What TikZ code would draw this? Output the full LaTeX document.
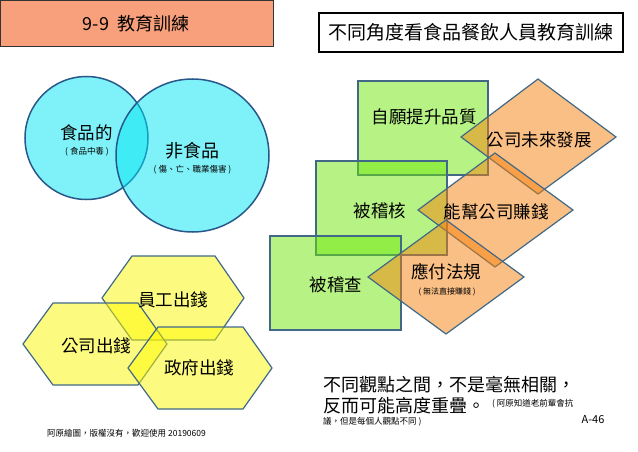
\documentclass[tikz,border=0pt]{standalone}
\usepackage{fontspec}
\setmainfont{Noto Sans CJK TC}
\newcommand\myfs[1]{\fontsize{#1}{#1}\selectfont}
\definecolor{salmon}{RGB}{248,160,124}
\definecolor{cyanf}{RGB}{0,228,242}
\definecolor{circline}{RGB}{40,88,138}
\definecolor{yelf}{RGB}{252,248,0}
\definecolor{greenf}{RGB}{110,232,10}
\definecolor{orangef}{RGB}{246,128,10}
\definecolor{shapeline}{RGB}{65,105,135}
\tikzset{
  circ/.style={fill=cyanf,fill opacity=0.5,draw=circline,draw opacity=1,line width=1.5pt},
  hexa/.style={fill=yelf,fill opacity=0.5,draw=shapeline,draw opacity=1,line width=1.2pt},
  grect/.style={fill=greenf,fill opacity=0.5,draw=shapeline,draw opacity=1,line width=1.2pt},
  odiam/.style={fill=orangef,fill opacity=0.5,draw=shapeline,draw opacity=1,line width=1.2pt},
  lbl/.style={inner sep=0pt,text=black},
}
\begin{document}
\begin{tikzpicture}[x=1pt,y=-1pt]
\useasboundingbox (0,0) rectangle (638,452);
% title boxes
\draw[fill=salmon,draw=black!80,line width=1pt] (0.5,0.5) rectangle (273,47);
\node[lbl] (t1) at (136,24) {\myfs{18}9-9\ \ 教育訓練};
\draw[fill=white,draw=black,line width=1.3pt] (319,13) rectangle (623,52);
\node[lbl] (t2) at (471,32) {\myfs{19}不同角度看食品餐飲人員教育訓練};
% circles
\path[circ] (86.5,138) circle (61.5);
\path[circ] (192.5,155.5) circle (76.5);
\node[lbl] (c1) at (86.5,133) {\myfs{17.5}食品的};
\node[lbl] (c1s) at (87,152) {\myfs{8.5}(\ 食品中毒\ )};
\node[lbl] (c2) at (192.5,151) {\myfs{18}非食品};
\node[lbl] (c2s) at (192.5,170) {\myfs{8.5}(\ 傷、亡、職業傷害\ )};
% hexagons
\path[hexa] (102,298) -- (132,256) -- (215,256) -- (244,298) -- (215,340) -- (132,340) -- cycle;
\path[hexa] (23,344) -- (53,303) -- (138,303) -- (167,344) -- (138,385) -- (53,385) -- cycle;
\path[hexa] (128,368) -- (158,327) -- (243,327) -- (272,368) -- (243,409) -- (158,409) -- cycle;
\node[lbl] (h1) at (173,300) {\myfs{17.5}員工出錢};
\node[lbl] (h2) at (96,346) {\myfs{17.5}公司出錢};
\node[lbl] (h3) at (199,368) {\myfs{17.5}政府出錢};
% green rectangles
\path[grect] (358,81) rectangle (488,175);
\path[grect] (316,161) rectangle (447,255);
\path[grect] (270,236) rectangle (401,330);
% orange diamonds
\path[odiam] (461,137) -- (538,79) -- (616,137) -- (538,194) -- cycle;
\path[odiam] (418,210) -- (495,153) -- (573,210) -- (495,267) -- cycle;
\path[odiam] (368,277) -- (446,220) -- (524,277) -- (446,334) -- cycle;
\node[lbl] (r1) at (424,117) {\myfs{17.5}自願提升品質};
\node[lbl] (r2) at (380,211) {\myfs{17.5}被稽核};
\node[lbl] (r3) at (336,285) {\myfs{17.5}被稽查};
\node[lbl] (d1) at (539,140) {\myfs{17.5}公司未來發展};
\node[lbl] (d2) at (496,212) {\myfs{17.5}能幫公司賺錢};
\node[lbl] (d3) at (446,272) {\myfs{17.5}應付法規};
\node[lbl] (d3s) at (447,292) {\myfs{8}(\ 無法直接賺錢\ )};
% bottom texts
\node[lbl,anchor=west] (b1) at (323,385) {\myfs{18}不同觀點之間，不是毫無相關，};
\node[lbl,anchor=west] (b2) at (323,406) {\myfs{18}反而可能高度重疊。};
\node[lbl,anchor=west] (b3) at (492,404) {\myfs{8.5}(\ 阿原知道老前輩會抗};
\node[lbl,anchor=west] (b4) at (323,422) {\myfs{8.5}議，但是每個人觀點不同\ )};
\node[lbl] (pg) at (593,420) {\myfs{11}A-46};
\node[lbl,anchor=west] (ft) at (47,433) {\myfs{8.5}阿原繪圖，版權沒有，歡迎使用\ 20190609};
\end{tikzpicture}
\end{document}
